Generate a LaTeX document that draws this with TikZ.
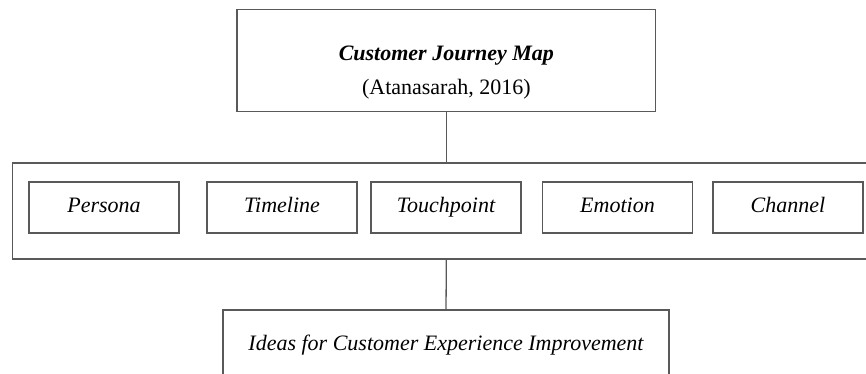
\documentclass[tikz,border=0pt]{standalone}
\usepackage{fontspec}
\setmainfont{Liberation Serif}
\begin{document}
\begin{tikzpicture}[x=1pt,y=-1pt,
  frame/.style={draw=black!65,line width=1.3pt,inner sep=0pt,outer sep=0pt},
  item/.style={frame,minimum width=150pt,minimum height=51pt,
    text height=15pt,text depth=5pt,
    font=\fontsize{22}{26}\selectfont\itshape,text=black},
  link/.style={draw=black!65,line width=1.3pt}]
\useasboundingbox (0,0) rectangle (866,374);
\clip (0,0) rectangle (866,374);

% title box
\node[frame,minimum width=418.7pt,minimum height=102.2pt] (map) at (446.35,60.6) {};
\node[align=center,text=black,font=\fontsize{22}{34}\selectfont] (maptext) at (446.35,73)
  {\textbf{\textit{Customer Journey Map}}\\(Atanasarah, 2016)};

% container with the five elements
\node[frame,minimum width=867.3pt,minimum height=96pt] (parts) at (446.35,211) {};
\node[item] (persona)    at (104,207.5) {Persona};
\node[item] (timeline)   at (282,207.5) {Timeline};
\node[item] (touchpoint) at (446,207.5) {Touchpoint};
\node[item] (emotion)    at (617.5,207.5) {Emotion};
\node[item] (channel)    at (788,207.5) {Channel};

% outcome box
\node[frame,minimum width=446pt,minimum height=70pt,
  text height=15pt,text depth=5pt,
  font=\fontsize{22}{26}\selectfont\itshape,text=black] (ideas) at (446,345)
  {Ideas for Customer Experience Improvement};

% connectors
\draw[link] (map.south) -- (parts.north);
\draw[link] (parts.south) -- (ideas.north);
\end{tikzpicture}
\end{document}
